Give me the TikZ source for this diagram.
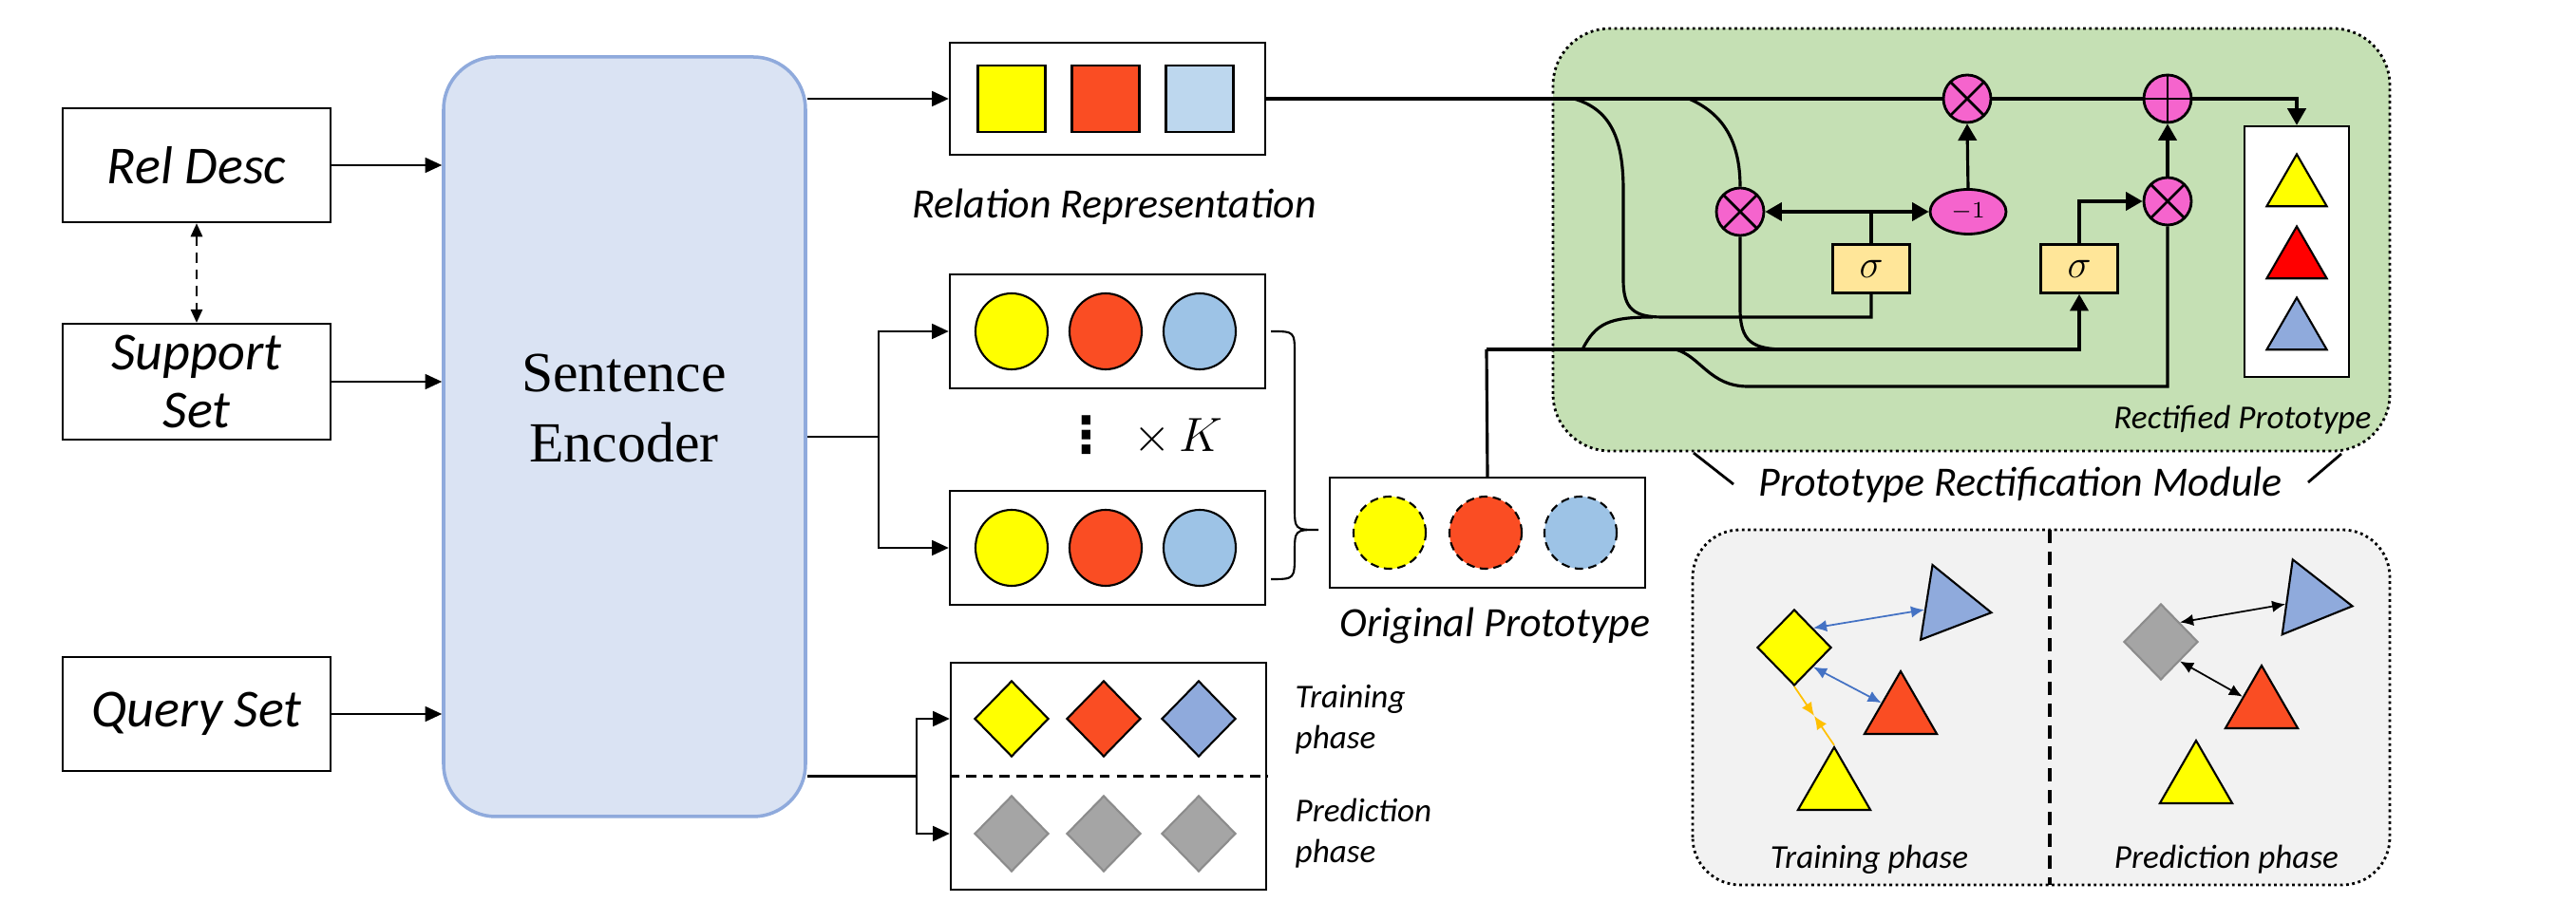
\documentclass[tikz,border=0pt]{standalone}
\usepackage{fontspec}
\newfontfamily\calfont{Carlito}
\newfontfamily\tnrfont{Liberation Serif}
\newfontfamily\symfont{DejaVu Sans}
\usetikzlibrary{shapes.geometric, positioning, arrows.meta, calc}
\definecolor{PYellow}{RGB}{255,255,0}
\definecolor{PRed}{RGB}{250,77,35}
\definecolor{PPure}{RGB}{255,0,0}
\definecolor{PSqBlue}{RGB}{189,215,238}
\definecolor{PCirBlue}{RGB}{157,195,230}
\definecolor{PDiaBlue}{RGB}{143,170,220}
\definecolor{PEncFill}{RGB}{218,227,243}
\definecolor{PEncDraw}{RGB}{143,170,220}
\definecolor{PGreen}{RGB}{197,224,180}
\definecolor{PPink}{RGB}{245,100,205}
\definecolor{PSig}{RGB}{255,230,153}
\definecolor{PGray}{RGB}{165,165,165}
\definecolor{PPanel}{RGB}{242,242,242}
\definecolor{PArrBlue}{RGB}{68,114,196}
\definecolor{PArrOrange}{RGB}{255,192,0}

\begin{document}
\begin{tikzpicture}[
    inbox/.style={rectangle, draw, line width=0.7pt, minimum width=2.82cm,
                  minimum height=1.2cm, align=center,
                  font=\calfont\itshape\fontsize{16}{17.5}\selectfont},
    vecbox/.style={rectangle, draw, line width=0.7pt, minimum width=3.32cm,
                   minimum height=1.18cm},
    lab/.style={font=\calfont\itshape\fontsize{12.5}{14}\selectfont},
    smlab/.style={font=\calfont\itshape\fontsize{10}{12.2}\selectfont, align=left,
                  inner sep=0pt},
    sq/.style={rectangle, draw, line width=0.6pt, minimum width=0.71cm,
               minimum height=0.70cm, inner sep=0pt},
    circ/.style={ellipse, draw, line width=0.6pt, minimum width=0.76cm,
                 minimum height=0.80cm, inner sep=0pt},
    dcirc/.style={circ, dash pattern=on 2.5pt off 1.6pt, minimum height=0.76cm},
    dia/.style={diamond, draw, line width=0.6pt, minimum width=0.78cm,
                minimum height=0.80cm, inner sep=0pt},
    gdia/.style={dia, fill=PGray, draw=PGray!85!black},
    tri/.style={regular polygon, regular polygon sides=3, draw, line width=0.6pt,
                inner sep=0pt, minimum size=0.88cm},
    arr/.style={-{Triangle[length=5pt, width=4.5pt]}, line width=0.6pt},
    darr/.style={{Triangle[length=4pt, width=3.5pt]}-{Triangle[length=4pt, width=3.5pt]},
                 line width=0.6pt, dash pattern=on 3pt off 2pt},
    gline/.style={line width=0.9pt},
    garr/.style={gline, -{Triangle[length=5pt, width=5.5pt]}},
    opn/.style={ellipse, draw, fill=PPink, line width=0.8pt, minimum width=0.5cm,
                minimum height=0.5cm, inner sep=0pt},
    mul/.style={opn, path picture={\draw[line width=0.8pt]
        (path picture bounding box.north west) -- (path picture bounding box.south east)
        (path picture bounding box.north east) -- (path picture bounding box.south west);}},
    plusop/.style={opn, path picture={\draw[line width=0.8pt]
        (path picture bounding box.north) -- (path picture bounding box.south)
        (path picture bounding box.west) -- (path picture bounding box.east);}},
    sigbox/.style={rectangle, draw, fill=PSig, line width=0.8pt, minimum width=0.81cm,
                   minimum height=0.51cm, inner sep=0pt, font=\fontsize{12}{12}\selectfont},
    barr/.style={{Latex[length=4pt, width=3.5pt]}-{Latex[length=4pt, width=3.5pt]},
                 line width=0.5pt}
  ]
  \useasboundingbox (0,0) rectangle (27.12,9.70);

  % inputs and encoder
  \node[inbox] (rel) at (2.07,7.96) {Rel Desc};
  \node[inbox] (sup) at (2.07,5.68) {Support\\Set};
  \node[inbox] (qry) at (2.07,2.18) {Query Set};
  \node[rectangle, rounded corners=0.55cm, draw=PEncDraw, fill=PEncFill, line width=1pt,
        minimum width=3.81cm, minimum height=8.0cm] (enc) at (6.575,5.10) {};
  \node[font=\tnrfont\fontsize{17}{21}\selectfont, align=center] (enctxt) at (6.57,5.40)
        {Sentence\\Encoder};

  \draw[arr] (rel.east) -- (rel.east -| enc.west);
  \draw[arr] (sup.east) -- (sup.east -| enc.west);
  \draw[arr] (qry.east) -- (qry.east -| enc.west);
  \draw[darr] (rel.south) -- (sup.north);

  % relation representation
  \node[vecbox] (rr) at (11.66,8.66) {};
  \node[sq, fill=PYellow] (s1) at (10.65,8.66) {};
  \node[sq, fill=PRed]    (s2) at (11.64,8.66) {};
  \node[sq, fill=PSqBlue] (s3) at (12.63,8.66) {};
  \node[lab] (rrlab) at (11.73,7.52) {Relation Representation};

  % support instances
  \node[vecbox, minimum height=1.2cm] (c1) at (11.66,6.21) {};
  \node[circ, fill=PYellow]  (c1a) at (10.65,6.21) {};
  \node[circ, fill=PRed]     (c1b) at (11.64,6.21) {};
  \node[circ, fill=PCirBlue] (c1c) at (12.63,6.21) {};
  \node[font=\symfont\bfseries\fontsize{15}{15}\selectfont] (kdots) at (11.44,5.12) {⋮};
  \node[font=\fontsize{15}{15}\selectfont] (ktimes) at (12.40,5.10) {$\times\,K$};
  \node[vecbox, minimum height=1.2cm] (c2) at (11.66,3.93) {};
  \node[circ, fill=PYellow]  (c2a) at (10.65,3.93) {};
  \node[circ, fill=PRed]     (c2b) at (11.64,3.93) {};
  \node[circ, fill=PCirBlue] (c2c) at (12.63,3.93) {};

  % query instances
  \node[vecbox, minimum height=2.39cm] (qb) at (11.67,1.525) {};
  \node[dia, fill=PYellow]  (q1) at (10.65,2.13) {};
  \node[dia, fill=PRed]     (q2) at (11.62,2.13) {};
  \node[dia, fill=PDiaBlue] (q3) at (12.62,2.13) {};
  \node[gdia] (g1) at (10.65,0.92) {};
  \node[gdia] (g2) at (11.62,0.92) {};
  \node[gdia] (g3) at (12.62,0.92) {};
  \draw[line width=0.6pt, dash pattern=on 3pt off 2pt] (qb.west) -- (qb.east);
  \node[smlab, anchor=west] (trlab) at (13.63,2.12) {Training\\phase};
  \node[smlab, anchor=west] (prlab) at (13.63,0.92) {Prediction\\phase};

  % encoder outputs
  \coordinate (m1) at (9.25,5.10);
  \coordinate (m2) at (9.65,1.525);
  \draw[arr] (enc.east |- rr.west) -- (rr.west);
  \draw[line width=0.6pt] (enc.east) -- (m1);
  \draw[arr] (m1) |- (c1.west);
  \draw[arr] (m1) |- (c2.west);
  \draw[line width=0.6pt] (enc.east |- m2) -- (m2);
  \draw[arr] (m2) |- (qb.west |- q1);
  \draw[arr] (m2) |- (qb.west |- g1);

  % original prototype
  \draw[line width=0.6pt] (13.38,6.21) .. controls (13.63,6.21) .. (13.63,5.96)
        -- (13.63,4.37) .. controls (13.63,4.12) .. (13.88,4.12)
        .. controls (13.63,4.12) .. (13.63,3.87) .. controls (13.63,3.60) .. (13.38,3.60);
  \node[vecbox, minimum height=1.16cm] (op) at (15.66,4.09) {};
  \node[dcirc, fill=PYellow]  (o1) at (14.63,4.09) {};
  \node[dcirc, fill=PRed]     (o2) at (15.64,4.09) {};
  \node[dcirc, fill=PCirBlue] (o3) at (16.64,4.09) {};
  \node[lab] (oplab) at (15.74,3.11) {Original Prototype};

  % rectification module
  \draw[fill=PGreen, densely dotted, line width=0.8pt, rounded corners=0.6cm]
        (16.35,4.95) rectangle (25.16,9.40);
  \node[mul] (tmul) at (20.71,8.66) {};
  \node[plusop] (padd) at (22.82,8.66) {};
  \node[mul] (lmul) at (18.32,7.47) {};
  \node[opn, minimum width=0.8cm, minimum height=0.47cm, font=\fontsize{7}{7}\selectfont]
        (neg) at (20.72,7.47) {$-1$};
  \node[sigbox] (sig1) at (19.70,6.87) {$\sigma$};
  \node[sigbox] (sig2) at (21.89,6.87) {$\sigma$};
  \node[mul] (rmul) at (22.82,7.58) {};
  \node[rectangle, draw, fill=white, line width=0.7pt, minimum width=1.10cm,
        minimum height=2.64cm] (rect) at (24.18,7.05) {};
  \node[tri, fill=PYellow, minimum size=0.73cm] (r1) at (24.18,7.71) {};
  \node[tri, fill=PPure, minimum size=0.73cm]   (r2) at (24.18,6.95) {};
  \node[tri, fill=PDiaBlue, minimum size=0.73cm] (r3) at (24.18,6.20) {};
  \node[font=\calfont\itshape\fontsize{10}{12}\selectfont, anchor=base east, inner sep=0pt]
        (rplab) at (24.97,5.18) {Rectified Prototype};
  \node[lab, anchor=base] (prmlab) at (21.27,4.47) {Prototype Rectification Module};
  \draw[line width=0.8pt] (17.83,4.93) -- (18.25,4.60);
  \draw[line width=0.8pt] (24.65,4.92) -- (24.30,4.62);

  \coordinate (opup) at (15.65,6.02);
  \draw[gline] (rr.east) -- (tmul.west);
  \draw[gline] (tmul.east) -- (padd.west);
  \draw[garr] (padd.east) -| (rect.north);
  \draw[gline] (16.57,8.66) .. controls (16.95,8.55) and (17.09,8.25) .. (17.09,7.70)
        -- (17.09,6.75) .. controls (17.09,6.45) and (17.20,6.36) .. (17.50,6.36) -| (sig1.south);
  \draw[gline] (16.66,6.02) .. controls (16.80,6.30) and (16.95,6.36) .. (17.40,6.36);
  \draw[gline] (17.78,8.66) .. controls (18.15,8.50) and (18.32,8.20) .. (lmul.north);
  \draw[gline] (lmul.south) -- (18.32,6.45) .. controls (18.32,6.10) and (18.45,6.02) .. (18.80,6.02);
  \draw[gline] (17.64,6.02) .. controls (17.90,5.95) and (18.00,5.63) .. (18.40,5.63) -| (rmul.south);
  \draw[gline] (op.north) -- (opup);
  \draw[garr] (opup) -| (sig2.south);
  \draw[gline] (sig1.north) -- (sig1.north |- lmul.east);
  \draw[garr, {Triangle[length=5pt, width=5.5pt]}-{Triangle[length=5pt, width=5.5pt]}]
        (lmul.east) -- (neg.west);
  \draw[garr] (neg.north) -- (tmul.south);
  \draw[garr] (sig2.north) |- (rmul.west);
  \draw[garr] (rmul.north) -- (padd.south);

  % training / prediction panel
  \draw[fill=PPanel, densely dotted, line width=0.8pt, rounded corners=0.5cm]
        (17.82,0.38) rectangle (25.16,4.12);
  \draw[line width=1.1pt, dash pattern=on 4pt off 2.5pt] (21.58,4.12) -- (21.58,0.38);
  \node[dia, fill=PYellow] (qd) at (18.89,2.88) {};
  \node[tri, fill=PDiaBlue, rotate=21, minimum size=0.92cm] (tb) at (20.51,3.32) {};
  \node[tri, fill=PRed] (tr) at (20.01,2.19) {};
  \node[tri, fill=PYellow] (ty) at (19.31,1.39) {};
  \draw[barr, PArrBlue] (qd.north east) -- (tb);
  \draw[barr, PArrBlue] (qd.south east) -- (tr);
  \coordinate (om) at ($(qd.south)!0.5!(ty.north)$);
  \draw[PArrOrange, line width=0.5pt, -{Latex[length=4pt, width=3.5pt]}] (qd.south) -- (om);
  \draw[PArrOrange, line width=0.5pt, -{Latex[length=4pt, width=3.5pt]}] (ty.north) -- (om);
  \node[gdia] (gd) at (22.75,2.94) {};
  \node[tri, fill=PDiaBlue, rotate=22, minimum size=0.92cm] (pb) at (24.31,3.38) {};
  \node[tri, fill=PRed] (pr) at (23.81,2.25) {};
  \node[tri, fill=PYellow] (py) at (23.12,1.46) {};
  \draw[barr] (gd.north east) -- (pb);
  \draw[barr] (gd.south east) -- (pr);
  \node[font=\calfont\itshape\fontsize{10}{12}\selectfont] (tplab) at (19.68,0.65) {Training phase};
  \node[font=\calfont\itshape\fontsize{10}{12}\selectfont] (pplab) at (23.44,0.65) {Prediction phase};
\end{tikzpicture}
\end{document}
